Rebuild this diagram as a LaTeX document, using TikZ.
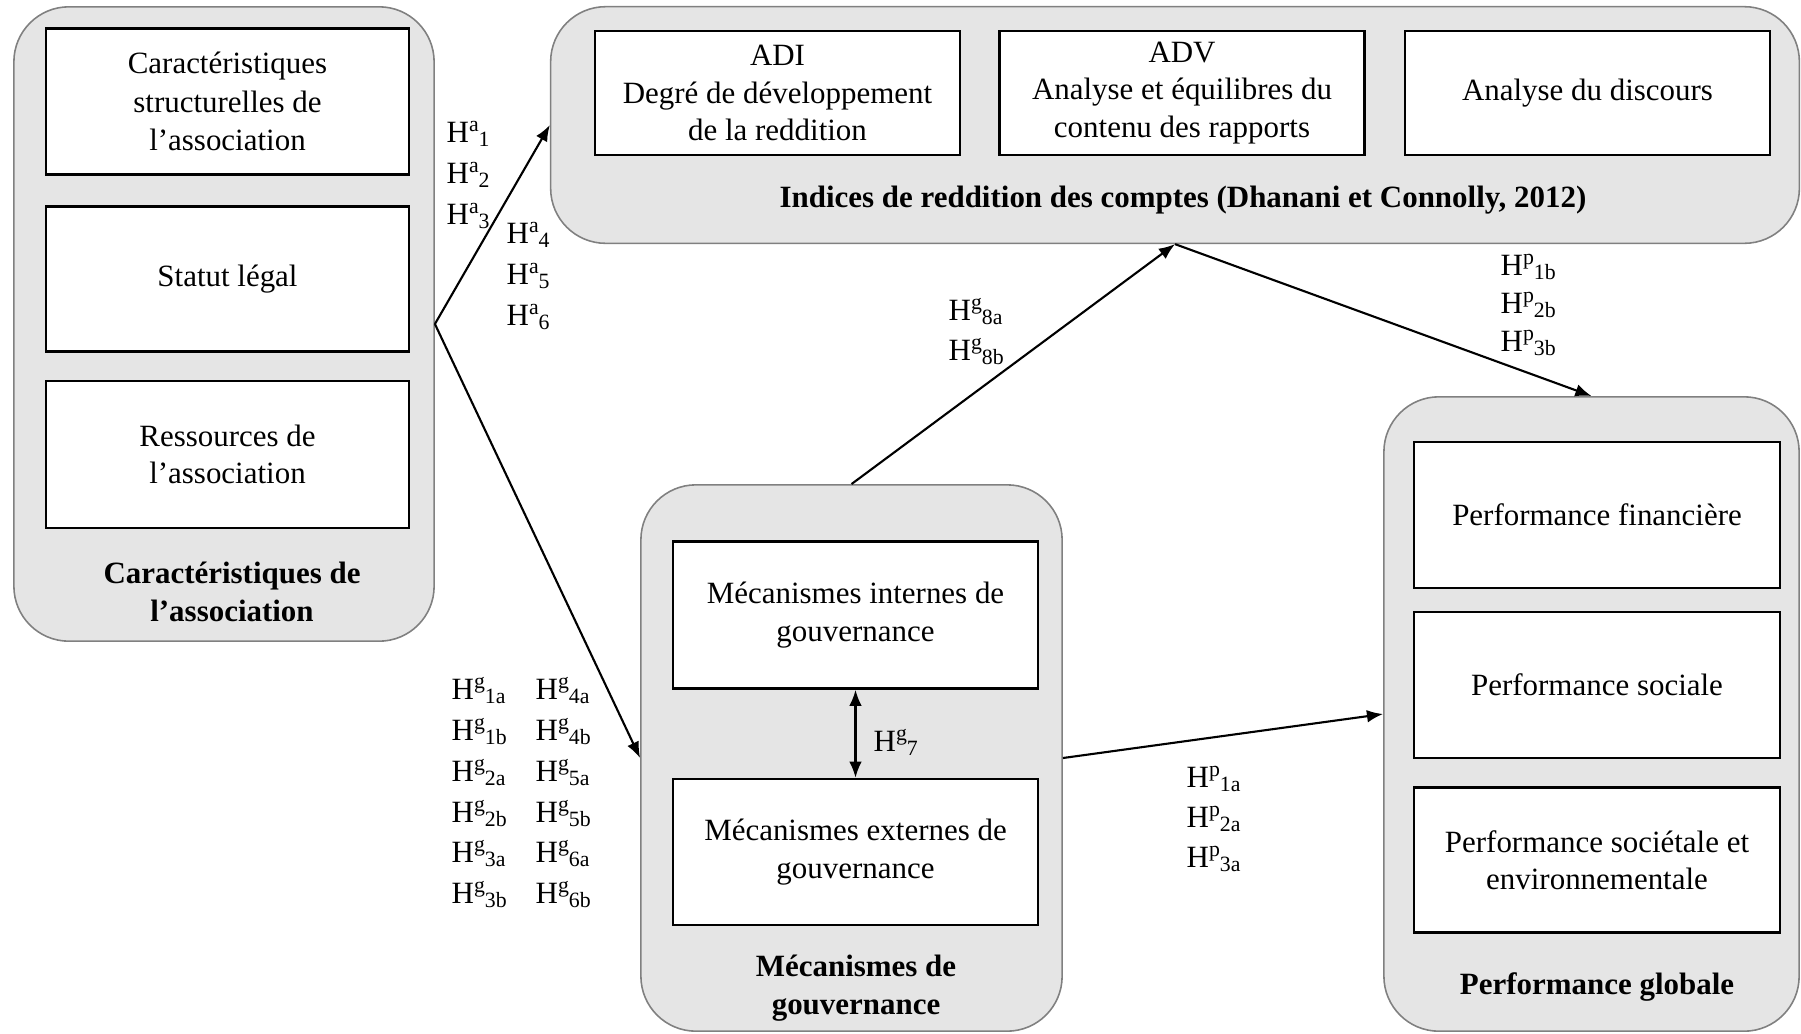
\documentclass[tikz,border=0pt]{standalone}
\usepackage{fontspec}
\setmainfont{Liberation Serif}
\usetikzlibrary{arrows.meta}
% hypothesis label: H with a superscript family letter and a subscript number
\newcommand{\hyp}[2]{H\raisebox{3pt}{\fontsize{6.2}{7}\selectfont #1}\raisebox{-1.3pt}{\fontsize{6.2}{7}\selectfont #2}}
\begin{document}
\begin{tikzpicture}[x=0.01cm,y=-0.01cm,
  font=\fontsize{8.8}{10.6}\selectfont,
  group/.style={draw=black!50, fill=black!10, line width=0.45pt, rounded corners=0.55cm, inner sep=0pt},
  item/.style={draw=black, fill=white, line width=0.7pt, inner sep=2pt, align=center},
  grouptitle/.style={font=\fontsize{8.8}{10.8}\selectfont\bfseries, align=center},
  hlab/.style={anchor=base west, inner sep=0pt},
  tip/.tip={Latex[length=4.6pt,width=3.6pt]},
  link/.style={line width=0.6pt, -tip},
  duallink/.style={line width=0.6pt, tip-tip},
]
\useasboundingbox (0,0) rectangle (1801,1033);

% grey groups
\node[group, minimum width=4.20cm, minimum height=6.34cm] (assoc) at (224,324) {};
\node[group, minimum width=12.48cm, minimum height=2.365cm] (indices) at (1175,125) {};
\node[group, minimum width=4.21cm, minimum height=5.46cm] (gouv) at (851.5,758) {};
\node[group, minimum width=4.15cm, minimum height=6.34cm] (perf) at (1591.5,714) {};

% association characteristics
\node[item, minimum width=3.63cm, minimum height=1.46cm, font=\fontsize{8.8}{11}\selectfont] (structure) at (227.5,101.6) {Caractéristiques\\structurelles de\\l’association};
\node[item, minimum width=3.63cm, minimum height=1.445cm] (statut) at (227.5,279) {Statut légal};
\node[item, minimum width=3.63cm, minimum height=1.47cm] (ressources) at (227.5,454.5) {Ressources de\\l’association};
\node[grouptitle] (assoctitle) at (232,592) {Caractéristiques de\\l’association};

% accountability indices
\node[item, minimum width=3.65cm, minimum height=1.24cm] (adi) at (777.5,93) {ADI\\Degré de développement\\de la reddition};
\node[item, minimum width=3.65cm, minimum height=1.24cm] (adv) at (1182,93) {ADV\\Analyse et équilibres du\\contenu des rapports};
\node[item, minimum width=3.65cm, minimum height=1.24cm] (discours) at (1587.5,93) {Analyse du discours};
\node[grouptitle] (indicestitle) at (1183,200) {Indices de reddition des comptes (Dhanani et Connolly, 2012)};

% governance mechanisms
\node[item, minimum width=3.65cm, minimum height=1.47cm] (internes) at (855.5,615) {Mécanismes internes de\\gouvernance};
\node[item, minimum width=3.65cm, minimum height=1.46cm] (externes) at (855.5,852) {Mécanismes externes de\\gouvernance};
\node[grouptitle] (gouvtitle) at (856,988) {Mécanismes de\\gouvernance};

% overall performance
\node[item, minimum width=3.66cm, minimum height=1.46cm] (financiere) at (1597,515) {Performance financière};
\node[item, minimum width=3.66cm, minimum height=1.46cm] (sociale) at (1597,685) {Performance sociale};
\node[item, minimum width=3.66cm, minimum height=1.445cm] (societale) at (1597,860) {Performance sociétale et\\environnementale};
\node[grouptitle] (perftitle) at (1597,987) {Performance globale};

% relations
\draw[link] (assoc.east) -- (indices.west);
\draw[link] (assoc.east) -- (gouv.west);
\draw[link] (gouv.north) -- (indices.south);
\draw[link] (indices.south) -- (perf.north);
\draw[link] (gouv.east) -- (perf.west);
\draw[duallink] (internes.south) -- (externes.north);

% hypothesis labels
\node[hlab] (ha1) at (446,142) {\hyp{a}{1}};
\node[hlab] (ha2) at (446,183) {\hyp{a}{2}};
\node[hlab] (ha3) at (446,224) {\hyp{a}{3}};
\node[hlab] (ha4) at (506,243) {\hyp{a}{4}};
\node[hlab] (ha5) at (506,284) {\hyp{a}{5}};
\node[hlab] (ha6) at (506,325) {\hyp{a}{6}};

\node[hlab] (hg1a) at (451,699) {\hyp{g}{1a}};
\node[hlab] (hg1b) at (451,740) {\hyp{g}{1b}};
\node[hlab] (hg2a) at (451,781) {\hyp{g}{2a}};
\node[hlab] (hg2b) at (451,822) {\hyp{g}{2b}};
\node[hlab] (hg3a) at (451,862) {\hyp{g}{3a}};
\node[hlab] (hg3b) at (451,903) {\hyp{g}{3b}};
\node[hlab] (hg4a) at (535,699) {\hyp{g}{4a}};
\node[hlab] (hg4b) at (535,740) {\hyp{g}{4b}};
\node[hlab] (hg5a) at (535,781) {\hyp{g}{5a}};
\node[hlab] (hg5b) at (535,822) {\hyp{g}{5b}};
\node[hlab] (hg6a) at (535,862) {\hyp{g}{6a}};
\node[hlab] (hg6b) at (535,903) {\hyp{g}{6b}};

\node[hlab] (hg7) at (873,751) {\hyp{g}{7}};
\node[hlab] (hg8a) at (948,320) {\hyp{g}{8a}};
\node[hlab] (hg8b) at (948,360) {\hyp{g}{8b}};

\node[hlab] (hp1b) at (1500,275) {\hyp{p}{1b}};
\node[hlab] (hp2b) at (1500,313) {\hyp{p}{2b}};
\node[hlab] (hp3b) at (1500,351) {\hyp{p}{3b}};
\node[hlab] (hp1a) at (1186,787) {\hyp{p}{1a}};
\node[hlab] (hp2a) at (1186,827) {\hyp{p}{2a}};
\node[hlab] (hp3a) at (1186,867) {\hyp{p}{3a}};
\end{tikzpicture}
\end{document}
